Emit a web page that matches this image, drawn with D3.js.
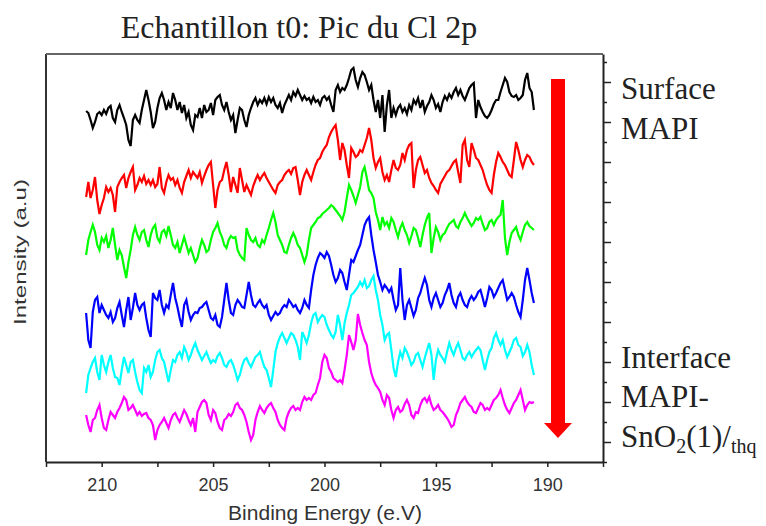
<!DOCTYPE html>
<html>
<head>
<meta charset="utf-8">
<script src="https://cdn.jsdelivr.net/npm/d3@7"></script>
<style>
  body { margin: 0; background: #fff; }
  svg { display: block; }
</style>
</head>
<body>
<svg id="chart"></svg>
<script>
// Binding energy grid: 210.7 eV down to 190.6 eV, 0.1 eV step
const energy = d3.range(202).map(i => +(210.7 - i * 0.1).toFixed(1));

const xTickLabels = [210, 205, 200, 195, 190];

// Offset spectra (arbitrary units), from surface (top) to interface (bottom)
const surface = [
  351,349,342,334,340,348,350,347,352,348, 354,356,344,340,352,357,350,344,337,322,
  316,342,347,342,339,352,362,372,362,350, 334,340,354,364,369,362,352,360,354,369,
  362,352,360,349,357,344,350,337,332,347, 345,354,344,357,350,352,359,347,362,365,
  367,357,352,360,350,342,347,329,342,354, 352,342,335,347,354,360,364,357,362,359,
  364,358,365,360,364,357,354,359,349,357, 362,367,362,370,366,372,367,362,366,362,
  364,359,365,360,362,357,364,366,362,365, 357,350,372,377,370,374,372,377,384,392,
  394,382,375,384,390,387,380,372,377,362, 350,362,344,367,330,357,372,344,354,347,
  354,357,350,354,348,357,352,362,358,364, 354,362,350,356,360,367,362,354,358,350,
  360,366,362,368,364,370,374,367,372,366, 362,368,374,377,379,344,362,355,350,346,
  344,347,352,358,362,362,370,377,384,380, 370,366,365,367,362,364,367,382,389,374,
  370,352
];
const depth1 = [
  265,280,264,272,285,262,248,257,264,275, 270,274,267,250,275,280,284,287,274,284,
  290,295,272,277,284,280,286,278,282,277, 282,275,278,295,274,269,280,287,282,284,
  277,282,274,269,280,286,292,284,290,287, 284,290,279,286,292,297,300,277,254,272,
  280,282,292,300,287,270,285,277,269,294, 282,270,277,272,267,276,282,287,282,286,
  289,284,280,276,272,269,277,280,282,287, 290,292,288,294,295,282,267,280,287,292,
  287,282,290,297,302,304,310,314,317,325, 330,334,337,322,302,319,312,297,284,314,
  310,305,307,312,310,317,324,334,322,304, 294,300,304,290,282,287,280,292,302,294,
  292,297,309,302,312,317,319,274,292,302, 305,297,289,292,284,279,276,272,269,278,
  282,286,290,292,296,300,302,290,279,317, 322,302,295,319,312,304,302,297,292,284,
  277,272,269,287,300,309,305,300,297,292, 287,285,302,320,312,302,295,302,307,305,
  300,297
];
const depth2 = [
  207,222,230,237,230,217,212,224,220,226, 214,222,234,217,202,212,207,195,184,200,
  212,227,235,227,222,230,232,222,215,227, 234,237,224,220,230,232,226,236,227,217,
  214,220,209,217,225,217,209,214,207,200, 204,214,222,217,210,212,222,230,234,239,
  230,225,217,214,222,226,224,225,212,207, 204,202,234,227,222,220,224,217,215,222,
  219,227,234,242,249,240,227,222,217,210, 209,217,224,229,224,217,214,207,200,207,
  222,234,237,240,244,245,248,250,252,254, 257,255,252,249,246,242,250,264,277,272,
  266,259,267,275,290,295,284,272,269,264, 250,242,232,245,237,240,234,244,240,232,
  225,234,239,232,227,219,226,234,232,224, 215,227,237,244,249,209,224,235,230,222,
  227,229,234,238,240,242,236,234,240,244, 249,244,240,236,239,244,242,245,238,232,
  234,240,242,237,242,245,247,262,224,207, 220,229,232,235,227,222,230,237,240,236,
  234,232
];
const depth3 = [
  149,122,114,150,162,165,149,157,152,147, 144,150,140,144,154,160,147,135,152,165,
  142,154,169,157,152,157,159,144,132,125, 169,164,162,172,157,149,157,154,167,179,
  164,155,144,135,157,162,150,142,147,150, 149,154,155,158,160,152,144,142,147,137,
  135,145,162,179,162,149,147,157,162,159, 155,154,167,180,167,157,155,159,162,157,
  154,157,147,142,146,150,147,149,154,157, 155,162,159,155,157,152,149,154,162,157,
  154,172,187,197,204,209,207,204,210,206, 197,187,180,184,192,189,180,172,187,202,
  200,206,212,217,227,237,242,245,227,212, 200,187,180,172,177,174,170,174,162,152,
  157,194,162,142,157,162,154,146,152,164, 169,177,184,177,162,155,164,169,162,155,
  159,167,172,179,167,159,155,165,169,162, 157,155,162,166,162,165,170,172,164,155,
  164,175,172,165,169,174,179,182,172,162, 165,169,165,157,150,145,162,182,194,182,
  169,159
];
const depth4 = [
  69,87,94,100,104,90,82,107,97,90, 100,107,94,85,84,77,92,105,97,89,
  100,102,90,80,72,69,94,90,97,85, 90,102,110,112,104,100,90,80,92,102,
  100,107,110,104,115,110,102,107,114,119, 112,107,102,106,110,104,99,102,100,106,
  109,104,97,95,100,102,97,90,82,87, 96,102,104,99,95,100,105,107,110,102,
  95,92,84,75,92,110,119,125,129,124, 119,124,129,127,122,115,102,130,125,119,
  127,139,147,149,140,144,147,145,137,132, 127,124,130,147,137,122,139,149,157,167,
  169,172,175,180,176,182,174,176,182,186, 172,162,147,137,122,127,129,112,94,85,
  100,110,104,114,110,104,97,100,107,109, 102,95,104,112,119,107,82,102,112,107,
  104,100,110,119,112,107,114,119,112,104, 102,107,110,105,109,112,115,112,102,92,
  102,110,114,124,129,122,117,122,112,105, 110,115,122,124,117,115,106,110,117,110,
  97,87
];
const interfaceSpec = [
  47,37,30,42,44,52,57,44,34,32, 42,50,47,44,50,54,59,65,62,52,
  54,57,52,47,50,46,48,49,44,42, 37,22,32,37,40,44,39,34,42,47,
  49,44,40,46,52,48,42,37,44,30, 50,55,60,62,59,47,42,52,49,40,
  34,32,42,44,48,46,50,57,59,54, 52,47,40,30,22,27,42,50,56,52,
  49,54,57,59,54,50,42,37,34,32, 44,50,54,56,52,54,52,60,65,62,
  64,62,67,69,77,84,100,107,104,94, 90,84,82,80,82,79,92,107,127,120,
  112,122,148,137,129,122,117,100,89,82, 77,74,70,62,57,67,64,52,44,52,
  55,50,52,58,62,57,47,44,50,49, 57,62,64,60,65,57,52,54,57,52,
  50,47,44,40,35,37,47,52,59,62, 65,60,57,55,50,49,54,59,57,52,
  54,52,57,62,64,67,72,64,57,52, 49,54,59,62,67,72,62,52,57,60,
  59,60
];

const spectra = [surface, depth1, depth2, depth3, depth4, interfaceSpec];
const colors = ["#000000", "#ff0000", "#00ff00", "#0000ff", "#00ffff", "#ff00ff"];

const width = 766;
const height = 526;
const plotLeft = 46, plotRight = 603, plotTop = 54, plotBottom = 462;

const svg = d3.select("#chart")
  .attr("width", width)
  .attr("height", height);

const x = d3.scaleLinear()
  .domain([212.5, 187.5])
  .range([plotLeft, plotRight]);

const y = d3.scaleLinear()
  .domain([0, 408])
  .range([plotBottom, plotTop]);

// frame: left and top borders
svg.append("line")
  .attr("x1", plotLeft).attr("x2", plotLeft)
  .attr("y1", plotTop).attr("y2", plotBottom)
  .attr("stroke", "#333").attr("stroke-width", 2);
svg.append("line")
  .attr("x1", plotLeft).attr("x2", plotRight)
  .attr("y1", plotTop).attr("y2", plotTop)
  .attr("stroke", "#666").attr("stroke-width", 2);

// spectra
const line = d3.line()
  .x((d, i) => x(energy[i]))
  .y(d => y(d));

svg.append("g")
  .selectAll("path")
  .data(spectra)
  .join("path")
  .attr("d", line)
  .attr("fill", "none")
  .attr("stroke", (d, i) => colors[i])
  .attr("stroke-width", 2.2)
  .attr("stroke-linejoin", "miter");

// bottom axis
const xAxis = d3.axisBottom(x)
  .tickValues(d3.range(187.5, 212.6, 2.5))
  .tickFormat(d => xTickLabels.includes(d) ? d : "")
  .tickSize(5)
  .tickSizeOuter(0)
  .tickPadding(11);

const gx = svg.append("g")
  .attr("transform", `translate(0,${plotBottom})`)
  .call(xAxis);
gx.select(".domain").attr("stroke", "#222").attr("stroke-width", 2);
gx.selectAll(".tick line").attr("stroke", "#222").attr("stroke-width", 1.5);
gx.selectAll("text")
  .attr("font-family", "Liberation Sans, Arial, sans-serif")
  .attr("font-size", 18)
  .attr("fill", "#333");

// right axis, ticks only
const yAxis = d3.axisRight(y)
  .tickValues(d3.range(0, 409, 20))
  .tickFormat("")
  .tickSizeOuter(0);

const gy = svg.append("g")
  .attr("transform", `translate(${plotRight},0)`)
  .call(yAxis);
gy.select(".domain").attr("stroke", "#222").attr("stroke-width", 2);
gy.selectAll(".tick line")
  .attr("stroke", "#222")
  .attr("stroke-width", 1.5)
  .attr("x2", d => d % 40 === 20 ? 8 : 4);

// red arrow (surface -> interface)
const arrowX = 558, arrowTop = 79, arrowTip = 438;
svg.append("rect")
  .attr("x", arrowX - 7).attr("y", arrowTop)
  .attr("width", 14).attr("height", arrowTip - 14 - arrowTop)
  .attr("fill", "#ff0000");
svg.append("path")
  .attr("d", `M${arrowX - 14},${arrowTip - 15} L${arrowX + 14},${arrowTip - 15} L${arrowX},${arrowTip} Z`)
  .attr("fill", "#ff0000");

// title
svg.append("text")
  .attr("x", 299).attr("y", 38)
  .attr("text-anchor", "middle")
  .attr("font-family", "Liberation Serif, Times New Roman, serif")
  .attr("font-size", 32)
  .attr("fill", "#222")
  .text("Echantillon t0: Pic du Cl 2p");

// axis titles
svg.append("text")
  .attr("x", 325).attr("y", 520)
  .attr("text-anchor", "middle")
  .attr("font-family", "Liberation Sans, Arial, sans-serif")
  .attr("font-size", 21)
  .attr("fill", "#333")
  .text("Binding Energy (e.V)");

svg.append("text")
  .attr("transform", "translate(26,252) rotate(-90)")
  .attr("text-anchor", "middle")
  .attr("font-family", "Liberation Sans, Arial, sans-serif")
  .attr("font-size", 16)
  .attr("fill", "#333")
  .attr("textLength", 146)
  .attr("lengthAdjust", "spacingAndGlyphs")
  .text("Intensity (a.u)");

// side labels
const serif = "Liberation Serif, Times New Roman, serif";
const sideLabels = [
  { text: "Surface", y: 99 },
  { text: "MAPI", y: 139 },
  { text: "Interface", y: 368 },
  { text: "MAPI-", y: 407 }
];
svg.selectAll(".side")
  .data(sideLabels)
  .join("text")
  .attr("class", "side")
  .attr("x", 621).attr("y", d => d.y)
  .attr("font-family", serif)
  .attr("font-size", 31)
  .attr("fill", "#222")
  .text(d => d.text);

const sno = svg.append("text")
  .attr("x", 621).attr("y", 447)
  .attr("font-family", serif)
  .attr("font-size", 31)
  .attr("fill", "#222");
sno.append("tspan").text("SnO");
sno.append("tspan").attr("font-size", 20).attr("dy", 6).text("2");
sno.append("tspan").attr("dy", -6).text("(1)/");
sno.append("tspan").attr("font-size", 20).attr("dy", 6).text("thq");
</script>
</body>
</html>
